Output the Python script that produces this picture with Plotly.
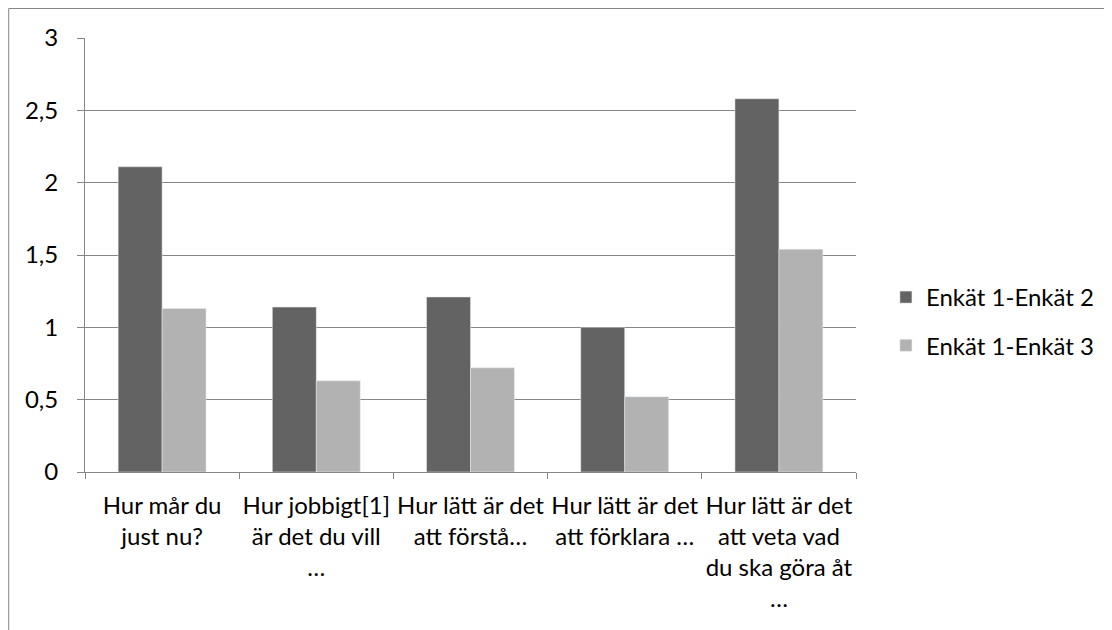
import plotly.graph_objects as go

categories = [
    "Hur mår du<br>just nu?",
    "Hur jobbigt[1]<br>är det du vill<br>…",
    "Hur lätt är det<br>att förstå…",
    "Hur lätt är det<br>att förklara …",
    "Hur lätt är det<br>att veta vad<br>du ska göra åt<br>…",
]
series_names = ["Enkät 1-Enkät 2", "Enkät 1-Enkät 3"]
enkat_1_2 = [2.11, 1.14, 1.21, 1.00, 2.58]
enkat_1_3 = [1.13, 0.63, 0.72, 0.52, 1.54]
y_ticks = [0, 0.5, 1, 1.5, 2, 2.5, 3]
y_tick_labels = ["0", "0,5", "1", "1,5", "2", "2,5", "3"]

FONT = "Lato"
FS = 24
GRID = "#868686"

fig = go.Figure()
fig.add_trace(go.Bar(x=categories, y=enkat_1_2, name=series_names[0],
                     marker_color="#636363", legendgroup="a"))
fig.add_trace(go.Bar(x=categories, y=enkat_1_3, name=series_names[1],
                     marker_color="#b2b2b2", legendgroup="b"))

# figure is placed at (8, 8) in the page by the browser's body margin
W, H = 1104, 622
L, R, T, B = 77, 1104 - 850, 30, 622 - 464
pw, ph = W - L - R, H - T - B

def px_x(x):
    return (x - L) / pw

def px_y(y):
    return (H - B - y) / ph

fig.update_layout(
    width=W, height=H,
    margin=dict(l=L, r=R, t=T, b=B, pad=0),
    paper_bgcolor="white", plot_bgcolor="white",
    font=dict(family=FONT, size=FS, color="#000000"),
    barmode="group", bargap=0.43, bargroupgap=0,
    showlegend=True,
    legend=dict(x=px_x(880), y=px_y(267), xanchor="left", yanchor="top",
                font=dict(family=FONT, size=FS, color="#000000"),
                tracegroupgap=14, itemwidth=30, bgcolor="rgba(0,0,0,0)"),
    xaxis=dict(
        type="category", showgrid=False, showline=True, linecolor=GRID, linewidth=1,
        ticks="outside", tickson="boundaries", ticklen=6, tickcolor=GRID,
        tickfont=dict(family=FONT, size=FS, color="#000000"),
        tickangle=0, ticklabelstandoff=12,
    ),
    yaxis=dict(
        range=[0, 3], tickvals=y_ticks, ticktext=y_tick_labels,
        showgrid=True, gridcolor=GRID, gridwidth=1,
        showline=True, linecolor=GRID, linewidth=1,
        ticks="outside", ticklen=7, tickcolor=GRID,
        tickfont=dict(family=FONT, size=FS, color="#000000"),
        zeroline=False, ticklabelstandoff=14,
    ),
    shapes=[dict(type="rect", xref="paper", yref="paper",
                 x0=px_x(0.5), x1=px_x(1120), y0=px_y(640), y1=px_y(0.5),
                 line=dict(color=GRID, width=1), fillcolor="rgba(0,0,0,0)", layer="below")],
)

fig.write_html("out.html")
